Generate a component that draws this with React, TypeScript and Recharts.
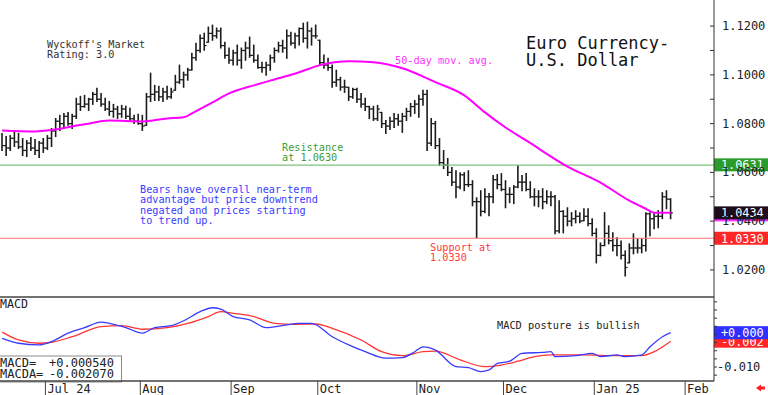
import React from 'react';
import { ComposedChart, Bar, Line, XAxis, YAxis, ReferenceLine, Customized } from 'recharts';

const MONO = '"DejaVu Sans Mono", "Liberation Mono", monospace';

// ---- daily EUR/USD bars (mid-June 2024 .. late Jan 2025) ----
const highs: number[] = [
  1.0760, 1.0747, 1.0751, 1.0768, 1.0760, 1.0739, 1.0731, 1.0743, 1.0735, 1.0727,
  1.0739, 1.0751, 1.0780, 1.0821, 1.0834, 1.0842, 1.0846, 1.0838, 1.0904, 1.0912,
  1.0916, 1.0904, 1.0928, 1.0945, 1.0924, 1.0904, 1.0891, 1.0879, 1.0871, 1.0875,
  1.0871, 1.0863, 1.0834, 1.0838, 1.0834, 1.0924, 1.1007, 1.0957, 1.0953, 1.0945,
  1.0953, 1.0945, 1.0998, 1.1040, 1.1011, 1.1027, 1.1089, 1.1130, 1.1163, 1.1171,
  1.1196, 1.1204, 1.1192, 1.1192, 1.1134, 1.1110, 1.1101, 1.1122, 1.1110, 1.1134,
  1.1155, 1.1122, 1.1081, 1.1052, 1.1052, 1.1081, 1.1110, 1.1134, 1.1142, 1.1184,
  1.1175, 1.1171, 1.1192, 1.1212, 1.1216, 1.1192, 1.1204, 1.1142, 1.1081, 1.1068,
  1.1040, 1.1019, 1.0990, 1.0978, 1.0949, 1.0945, 1.0945, 1.0924, 1.0904, 1.0871,
  1.0871, 1.0875, 1.0846, 1.0813, 1.0826, 1.0842, 1.0838, 1.0842, 1.0863, 1.0883,
  1.0895, 1.0916, 1.0937, 1.0937, 1.0821, 1.0809, 1.0739, 1.0690, 1.0657, 1.0620,
  1.0607, 1.0599, 1.0599, 1.0607, 1.0566, 1.0496, 1.0525, 1.0533, 1.0513, 1.0587,
  1.0591, 1.0595, 1.0566, 1.0537, 1.0546, 1.0628, 1.0587, 1.0595, 1.0562, 1.0533,
  1.0525, 1.0533, 1.0525, 1.0521, 1.0505, 1.0484, 1.0443, 1.0455, 1.0435, 1.0443,
  1.0435, 1.0451, 1.0451, 1.0410, 1.0369, 1.0311, 1.0435, 1.0381, 1.0352, 1.0332,
  1.0319, 1.0278, 1.0307, 1.0348, 1.0328, 1.0328, 1.0435, 1.0435, 1.0435, 1.0443,
  1.0517, 1.0525, 1.0492,
];
const lows: number[] = [
  1.0690, 1.0669, 1.0690, 1.0706, 1.0698, 1.0669, 1.0665, 1.0690, 1.0673, 1.0661,
  1.0682, 1.0694, 1.0706, 1.0747, 1.0772, 1.0784, 1.0793, 1.0780, 1.0821, 1.0854,
  1.0867, 1.0854, 1.0879, 1.0891, 1.0871, 1.0854, 1.0834, 1.0826, 1.0821, 1.0826,
  1.0821, 1.0813, 1.0801, 1.0797, 1.0772, 1.0793, 1.0891, 1.0895, 1.0895, 1.0891,
  1.0900, 1.0904, 1.0937, 1.0965, 1.0949, 1.0978, 1.1019, 1.1060, 1.1093, 1.1101,
  1.1134, 1.1142, 1.1151, 1.1110, 1.1068, 1.1048, 1.1040, 1.1040, 1.1027, 1.1060,
  1.1072, 1.1052, 1.1027, 1.1011, 1.0998, 1.1019, 1.1052, 1.1093, 1.1093, 1.1068,
  1.1122, 1.1110, 1.1122, 1.1134, 1.1110, 1.1122, 1.1151, 1.1040, 1.1027, 1.1019,
  1.0949, 1.0953, 1.0937, 1.0928, 1.0895, 1.0904, 1.0887, 1.0867, 1.0854, 1.0821,
  1.0813, 1.0813, 1.0784, 1.0760, 1.0776, 1.0784, 1.0793, 1.0764, 1.0813, 1.0830,
  1.0842, 1.0826, 1.0875, 1.0690, 1.0710, 1.0698, 1.0628, 1.0616, 1.0587, 1.0546,
  1.0496, 1.0533, 1.0525, 1.0542, 1.0463, 1.0332, 1.0422, 1.0435, 1.0422, 1.0476,
  1.0533, 1.0525, 1.0455, 1.0476, 1.0472, 1.0537, 1.0525, 1.0525, 1.0496, 1.0463,
  1.0459, 1.0451, 1.0472, 1.0463, 1.0348, 1.0352, 1.0352, 1.0381, 1.0381, 1.0393,
  1.0393, 1.0402, 1.0381, 1.0340, 1.0229, 1.0258, 1.0299, 1.0307, 1.0278, 1.0258,
  1.0245, 1.0175, 1.0229, 1.0266, 1.0270, 1.0270, 1.0278, 1.0340, 1.0369, 1.0373,
  1.0410, 1.0451, 1.0410,
];
const closes: number[] = [
  1.0710, 1.0700, 1.0740, 1.0725, 1.0705, 1.0690, 1.0720, 1.0700, 1.0690, 1.0720,
  1.0700, 1.0740, 1.0770, 1.0810, 1.0800, 1.0830, 1.0800, 1.0830, 1.0880, 1.0870,
  1.0880, 1.0900, 1.0920, 1.0900, 1.0880, 1.0860, 1.0850, 1.0860, 1.0840, 1.0860,
  1.0830, 1.0820, 1.0810, 1.0800, 1.0790, 1.0910, 1.0920, 1.0930, 1.0910, 1.0930,
  1.0910, 1.0930, 1.0970, 1.0980, 1.1000, 1.1020, 1.1070, 1.1100, 1.1150, 1.1120,
  1.1170, 1.1160, 1.1180, 1.1120, 1.1080, 1.1060, 1.1090, 1.1060, 1.1100, 1.1110,
  1.1080, 1.1060, 1.1030, 1.1030, 1.1040, 1.1070, 1.1100, 1.1120, 1.1110, 1.1160,
  1.1130, 1.1160, 1.1190, 1.1150, 1.1180, 1.1160, 1.1160, 1.1050, 1.1040, 1.1030,
  1.0970, 1.0980, 1.0950, 1.0950, 1.0910, 1.0940, 1.0900, 1.0880, 1.0870, 1.0860,
  1.0820, 1.0860, 1.0800, 1.0790, 1.0810, 1.0820, 1.0810, 1.0830, 1.0850, 1.0870,
  1.0880, 1.0900, 1.0920, 1.0720, 1.0800, 1.0710, 1.0640, 1.0630, 1.0600, 1.0560,
  1.0540, 1.0590, 1.0550, 1.0550, 1.0480, 1.0480, 1.0440, 1.0500, 1.0500, 1.0570,
  1.0550, 1.0530, 1.0510, 1.0510, 1.0540, 1.0560, 1.0560, 1.0530, 1.0500, 1.0500,
  1.0500, 1.0480, 1.0500, 1.0500, 1.0360, 1.0440, 1.0420, 1.0400, 1.0410, 1.0420,
  1.0400, 1.0420, 1.0390, 1.0350, 1.0260, 1.0300, 1.0350, 1.0320, 1.0300, 1.0300,
  1.0260, 1.0210, 1.0290, 1.0290, 1.0290, 1.0300, 1.0430, 1.0410, 1.0420, 1.0420,
  1.0500, 1.0490, 1.0434,
];

// 50-day moving average, read at selected bars: [bar index, value]
const maPoints: [number, number][] = [
  [0, 1.0772], [8, 1.0768], [20, 1.0797], [26, 1.0813], [34, 1.0809], [40, 1.0821],
  [44, 1.0826], [46, 1.0842], [51, 1.0887], [55, 1.0924], [61, 1.0957], [67, 1.0986],
  [72, 1.1011], [77, 1.1040], [84, 1.1056], [90, 1.1052], [97, 1.1027], [105, 1.0970],
  [112, 1.0916], [117, 1.0846], [122, 1.0784], [127, 1.0731], [137, 1.0624], [145, 1.0558],
  [152, 1.0484], [156, 1.0451], [158, 1.0435], [162, 1.0435],
];

// MACD (blue) and its signal line (red): [bar index, value]
const macdPoints: [number, number][] = [
  [0, -0.0012], [4, -0.0027], [9, -0.0032], [12, -0.0022], [16, 0.0004], [20, 0.0021],
  [24, 0.0038], [26, 0.0034], [30, 0.0021], [34, 0.0004], [37, 0.0021], [41, 0.0027],
  [44, 0.0042], [48, 0.0070], [51, 0.0082], [53, 0.0078], [56, 0.0055], [60, 0.0045],
  [64, 0.0021], [68, 0.0027], [72, 0.0034], [75, 0.0034], [80, -0.0007], [84, -0.0032],
  [88, -0.0053], [93, -0.0073], [97, -0.0071], [100, -0.0053], [102, -0.0038], [105, -0.0048],
  [110, -0.0099], [113, -0.0102], [116, -0.0114], [118, -0.0109], [120, -0.0089], [123, -0.0082],
  [126, -0.0058], [131, -0.0055], [133, -0.0053], [134, -0.0068], [139, -0.0065], [143, -0.0058],
  [145, -0.0068], [149, -0.0063], [151, -0.0068], [155, -0.0063], [157, -0.0038], [160, -0.0007],
  [162, 0.00054],
];
const signalPoints: [number, number][] = [
  [0, 0.0007], [4, -0.0017], [9, -0.0027], [12, -0.0024], [17, -0.0007], [24, 0.0024],
  [29, 0.0027], [34, 0.0016], [40, 0.0021], [45, 0.0034], [50, 0.0055], [53, 0.0070],
  [56, 0.0065], [61, 0.0055], [66, 0.0034], [71, 0.0031], [76, 0.0032], [80, 0.0019],
  [87, -0.0017], [92, -0.0053], [97, -0.0065], [102, -0.0053], [105, -0.0051], [111, -0.0078],
  [117, -0.0099], [121, -0.0094], [125, -0.0082], [129, -0.0068], [133, -0.0063], [141, -0.0063],
  [149, -0.0065], [155, -0.0065], [158, -0.0053], [162, -0.00207],
];

// x axis: trading-day slots, month starts and their labels
const SLOT_COUNT = 173;
const monthStarts = [11, 34, 56, 77, 101, 122, 144, 166];
const monthLabels = ['Jul 24', 'Aug', 'Sep', 'Oct', 'Nov', 'Dec', 'Jan 25', 'Feb'];
const monthTicks = monthStarts.map((k) => k - 0.5);

// y axes
const priceTicks = [1.02, 1.03, 1.04, 1.05, 1.06, 1.07, 1.08, 1.09, 1.10, 1.11, 1.12];
const priceLabelTicks = [1.02, 1.04, 1.06, 1.08, 1.10, 1.12];
const macdTicks = [-0.0125, -0.01, -0.0075, -0.005, -0.0025, 0, 0.0025, 0.005, 0.0075, 0.01];
const macdLabelTicks = [-0.01];

// key levels
const resistanceLevel = 1.063;
const resistanceTagValue = 1.0631;
const supportLevel = 1.033;
const lastPrice = 1.0434;
const lastMacd = 0.00054;
const lastSignal = -0.00207;

// ---- tables for recharts ----
const priceData = Array.from({ length: SLOT_COUNT }, (_, i) => ({
  i,
  high: i < highs.length ? highs[i] : null,
  low: i < lows.length ? lows[i] : null,
  close: i < closes.length ? closes[i] : null,
  open: i > 0 && i < closes.length ? closes[i - 1] : null,
  ma: null as number | null,
}));
maPoints.forEach(([k, v]) => {
  priceData[k].ma = v;
});

const macdData = Array.from({ length: SLOT_COUNT }, (_, i) => ({
  i,
  macd: null as number | null,
  signal: null as number | null,
}));
macdPoints.forEach(([k, v]) => {
  macdData[k].macd = v;
});
signalPoints.forEach(([k, v]) => {
  macdData[k].signal = v;
});

// ---- drawing helpers ----
const OhlcShape = (props: any) => {
  const { x, y, width, height, payload } = props;
  if (!payload || payload.high == null || x == null || y == null) return <g />;
  const top = height >= 0 ? y : y + height;
  const h = Math.abs(height);
  const cx = x + width / 2;
  const span = payload.high - payload.low || 1e-9;
  const toY = (v: number) => {
    const c = Math.min(Math.max(v, payload.low), payload.high);
    return top + ((payload.high - c) / span) * h;
  };
  return (
    <g stroke="#1b1b1b">
      <line x1={cx} x2={cx} y1={top - 0.5} y2={top + h + 0.5} strokeWidth={1.6} />
      {payload.open != null && (
        <line x1={cx - 2.3} x2={cx} y1={toY(payload.open)} y2={toY(payload.open)} strokeWidth={1.2} />
      )}
      <line x1={cx} x2={cx + 2.3} y1={toY(payload.close)} y2={toY(payload.close)} strokeWidth={1.2} />
    </g>
  );
};

const PriceTag = (props: any) => {
  const { viewBox, text, fill, under } = props;
  if (!viewBox) return null;
  const left = viewBox.x + viewBox.width;
  const cy = viewBox.y;
  return (
    <g>
      {under && <rect x={left} y={cy - 5.5} width={54} height={14} fill={under} />}
      <rect x={left} y={cy - 6.5} width={54} height={13} fill={fill} />
      <text x={left + 7} y={cy + 0.5} dominantBaseline="central" fill="#ffffff" fontSize={11.8} fontFamily={MONO}>
        {text}
      </text>
    </g>
  );
};

const PriceAxisTick = (props: any) => {
  const { x, y, payload } = props;
  const v = payload.value as number;
  const labeled = priceLabelTicks.some((t) => Math.abs(t - v) < 1e-9);
  return (
    <g>
      <line x1={x - 4} x2={x} y1={y} y2={y} stroke="#333" />
      {labeled && (
        <text x={x + 8} y={y} dominantBaseline="central" fontSize={12} fontFamily={MONO} fill="#222">
          {v.toFixed(4)}
        </text>
      )}
    </g>
  );
};

const MacdAxisTick = (props: any) => {
  const { x, y, payload } = props;
  const v = payload.value as number;
  const labeled = macdLabelTicks.some((t) => Math.abs(t - v) < 1e-9);
  return (
    <g>
      <line x1={x} x2={x + 3} y1={y} y2={y} stroke="#333" />
      {labeled && (
        <text x={x + 3} y={y} dominantBaseline="central" fontSize={12} fontFamily={MONO} fill="#222">
          {v.toFixed(3)}
        </text>
      )}
    </g>
  );
};

const MonthTick = (props: any) => {
  const { x, y, payload } = props;
  const k = monthTicks.findIndex((t) => Math.abs(t - payload.value) < 1e-9);
  return (
    <g>
      <line x1={x} x2={x} y1={y} y2={y + 14} stroke="#444" />
      <text x={x + 2} y={y + 7.5} dominantBaseline="central" fontSize={12} fontFamily={MONO} fill="#222">
        {k >= 0 ? monthLabels[k] : ''}
      </text>
    </g>
  );
};

const SMALL = 10.2;

const MainNotes = () => (
  <g fontFamily={MONO}>
    <text x={47} y={44} fontSize={SMALL} fill="#333" dominantBaseline="central">Wyckoff's Market</text>
    <text x={47} y={54.5} fontSize={SMALL} fill="#333" dominantBaseline="central">Rating: 3.0</text>
    <text x={526} y={43} fontSize={17} fill="#111" dominantBaseline="central">Euro Currency-</text>
    <text x={526} y={60} fontSize={17} fill="#111" dominantBaseline="central">U.S. Dollar</text>
    <text x={395} y={60} fontSize={SMALL} fill="#ff33ff" dominantBaseline="central">50-day mov. avg.</text>
    <text x={282} y={147} fontSize={SMALL} fill="#3c9e3c" dominantBaseline="central">Resistance</text>
    <text x={282} y={157} fontSize={SMALL} fill="#3c9e3c" dominantBaseline="central">at 1.0630</text>
    <text x={140} y={189} fontSize={SMALL} fill="#3a3aff" dominantBaseline="central">Bears have overall near-term</text>
    <text x={140} y={199.5} fontSize={SMALL} fill="#3a3aff" dominantBaseline="central">advantage but price downtrend</text>
    <text x={140} y={210} fontSize={SMALL} fill="#3a3aff" dominantBaseline="central">negated and prices starting</text>
    <text x={140} y={220.5} fontSize={SMALL} fill="#3a3aff" dominantBaseline="central">to trend up.</text>
    <text x={430} y={247} fontSize={SMALL} fill="#ff3b3b" dominantBaseline="central">Support at</text>
    <text x={430} y={257} fontSize={SMALL} fill="#ff3b3b" dominantBaseline="central">1.0330</text>
  </g>
);

const MacdNotes = () => (
  <g fontFamily={MONO}>
    <text x={0} y={7} fontSize={11.6} fill="#222" dominantBaseline="central">MACD</text>
    <text x={497} y={28} fontSize={10.3} fill="#222" dominantBaseline="central">MACD posture is bullish</text>
    <rect x={-1} y={59} width={122.5} height={26} fill="#ffffff" stroke="#8a8a8a" />
    <text x={0} y={65.5} fontSize={12} fill="#222" dominantBaseline="central">MACD=</text>
    <text x={49} y={65.5} fontSize={12} fill="#222" dominantBaseline="central">+0.000540</text>
    <text x={0} y={77} fontSize={12} fill="#222" dominantBaseline="central">MACDA=</text>
    <text x={49} y={77} fontSize={12} fill="#222" dominantBaseline="central">-0.002070</text>
    <polygon points="756,91 761,87.5 761,89.5 765,89.5 765,92.5 761,92.5 761,94.5" fill="#ff2020" />
  </g>
);

export default function App() {
  return (
    <div style={{ position: 'fixed', left: 0, top: 0, width: 768, height: 395, background: '#ffffff', overflow: 'hidden' }}>
      <div style={{ position: 'absolute', left: 0, top: 0 }}>
        <ComposedChart width={768} height={298} data={priceData} margin={{ top: 0, right: 0, bottom: 0, left: 0 }}>
          <XAxis
            dataKey="i"
            type="number"
            domain={[-0.5, SLOT_COUNT - 0.5]}
            allowDataOverflow
            height={1}
            tick={false}
            tickLine={false}
            axisLine={{ stroke: '#444', strokeWidth: 1.5 }}
          />
          <YAxis
            orientation="right"
            width={54}
            domain={[1.0089, 1.1307]}
            allowDataOverflow
            ticks={priceTicks}
            interval={0}
            tick={PriceAxisTick}
            tickLine={false}
            tickSize={0}
            tickMargin={0}
            axisLine={{ stroke: '#333' }}
          />
          <ReferenceLine y={resistanceLevel} stroke="#7cc47c" strokeWidth={1.2} />
          <ReferenceLine y={supportLevel} stroke="#ff7575" strokeWidth={1.2} />
          <Bar
            dataKey={(d: any) => (d.high == null ? null : [d.low, d.high])}
            barSize={2}
            shape={OhlcShape}
            isAnimationActive={false}
          />
          <Line
            dataKey="ma"
            type="monotone"
            stroke="#ff00ff"
            strokeWidth={2}
            dot={false}
            activeDot={false}
            connectNulls
            isAnimationActive={false}
          />
          <ReferenceLine y={resistanceTagValue} stroke="none" label={<PriceTag text="1.0631" fill="#2b9b2b" />} />
          <ReferenceLine y={lastPrice} stroke="none" label={<PriceTag text="1.0434" fill="#1c0c1c" under="#ff33ff" />} />
          <ReferenceLine y={supportLevel} stroke="none" label={<PriceTag text="1.0330" fill="#ff2626" />} />
          <Customized component={MainNotes} />
        </ComposedChart>
      </div>
      <div style={{ position: 'absolute', left: 0, top: 297 }}>
        <ComposedChart width={768} height={98} data={macdData} margin={{ top: 0, right: 0, bottom: 0, left: 0 }}>
          <XAxis
            dataKey="i"
            type="number"
            domain={[-0.5, SLOT_COUNT - 0.5]}
            allowDataOverflow
            height={14}
            ticks={monthTicks}
            interval={0}
            tick={MonthTick}
            tickLine={false}
            tickSize={0}
            tickMargin={0}
            axisLine={{ stroke: '#444', strokeWidth: 1.3 }}
          />
          <YAxis
            orientation="right"
            width={54}
            domain={[-0.0143, 0.0115]}
            allowDataOverflow
            ticks={macdTicks}
            interval={0}
            tick={MacdAxisTick}
            tickLine={false}
            tickSize={0}
            tickMargin={0}
            axisLine={{ stroke: '#333' }}
          />
          <Line
            dataKey="signal"
            type="monotone"
            stroke="#ff3535"
            strokeWidth={1.3}
            dot={false}
            activeDot={false}
            connectNulls
            isAnimationActive={false}
          />
          <Line
            dataKey="macd"
            type="monotone"
            stroke="#3a3aff"
            strokeWidth={1.3}
            dot={false}
            activeDot={false}
            connectNulls
            isAnimationActive={false}
          />
          <ReferenceLine y={lastSignal} stroke="none" label={<PriceTag text="-0.002" fill="#ff2626" />} />
          <ReferenceLine y={lastMacd} stroke="none" label={<PriceTag text="+0.000" fill="#2f2fff" />} />
          <Customized component={MacdNotes} />
        </ComposedChart>
      </div>
    </div>
  );
}
